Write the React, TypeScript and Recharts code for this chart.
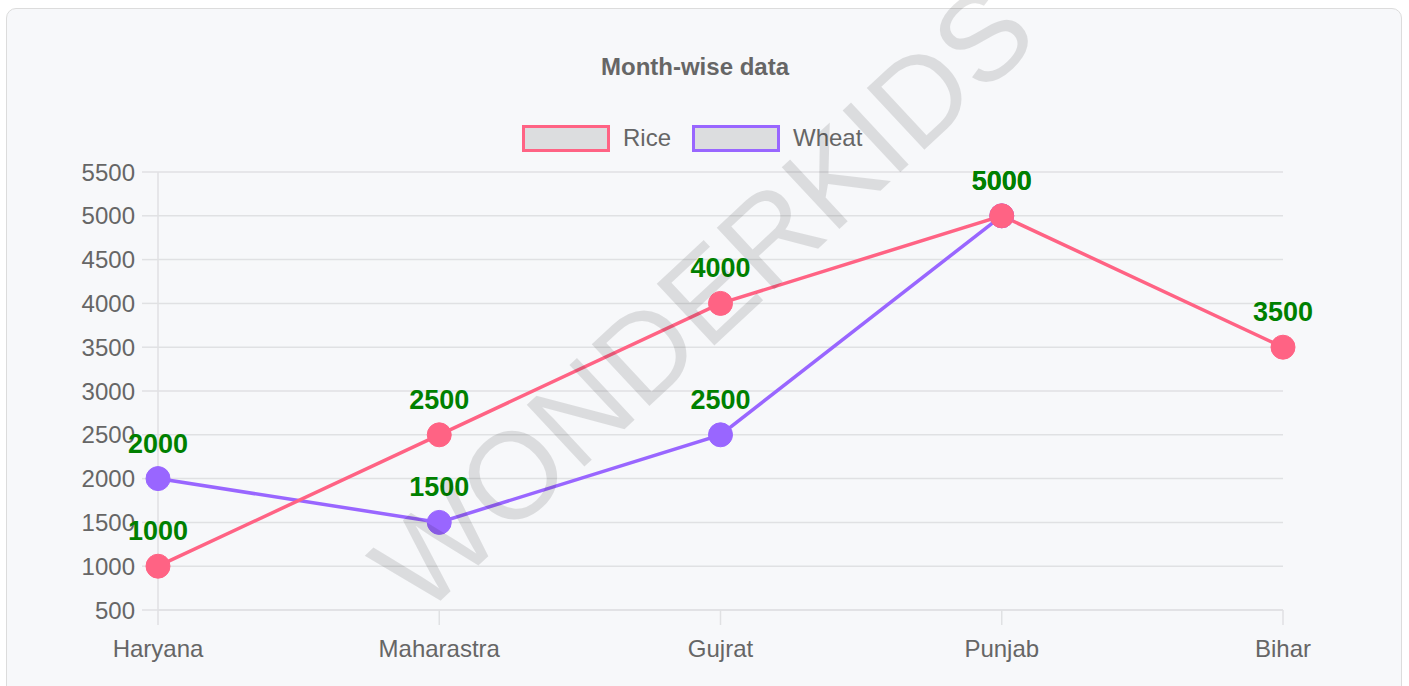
import React from 'react'
import { LineChart, Line, XAxis, YAxis, CartesianGrid, LabelList } from 'recharts'

const states = ['Haryana', 'Maharastra', 'Gujrat', 'Punjab', 'Bihar']
const rice = [1000, 2500, 4000, 5000, 3500]
const wheat: (number | null)[] = [2000, 1500, 2500, 5000, null]
const yTicks = [500, 1000, 1500, 2000, 2500, 3000, 3500, 4000, 4500, 5000, 5500]

const RICE = '#ff6384'
const WHEAT = '#9966ff'
const GRID = '#e0e1e3'
const FONT = '"Liberation Sans", Arial, Helvetica, sans-serif'

const data = states.map((state, i) => ({ state, rice: rice[i], wheat: wheat[i] }))

function LegendItem({ color, label }: { color: string; label: string }) {
  return (
    <div style={{ display: 'flex', alignItems: 'center' }}>
      <div
        style={{
          width: 88,
          height: 27,
          boxSizing: 'border-box',
          border: `3px solid ${color}`,
          background: '#dcdddf',
        }}
      />
      <span style={{ marginLeft: 13, marginRight: 21, fontSize: 24, color: '#666' }}>{label}</span>
    </div>
  )
}

export default function App() {
  return (
    <div
      style={{
        position: 'absolute',
        left: 0,
        top: 0,
        width: 1409,
        height: 686,
        overflow: 'hidden',
        fontFamily: FONT,
        background: '#fff',
      }}
    >
      <div
        style={{
          position: 'absolute',
          left: 6,
          top: 8,
          width: 1396,
          height: 720,
          boxSizing: 'border-box',
          border: '1px solid #dcdcdc',
          borderRadius: 10,
          background: '#f7f8fa',
        }}
      />
      <div
        style={{
          position: 'absolute',
          left: 395,
          width: 600,
          top: 52,
          height: 30,
          lineHeight: '30px',
          textAlign: 'center',
          fontWeight: 'bold',
          fontSize: 24,
          color: '#666',
        }}
      >
        Month-wise data
      </div>
      <div style={{ position: 'absolute', left: 522, top: 124, display: 'flex' }}>
        <LegendItem color={RICE} label="Rice" />
        <LegendItem color={WHEAT} label="Wheat" />
      </div>
      <div style={{ position: 'absolute', left: 0, top: 0 }}>
        <LineChart
          width={1409}
          height={686}
          data={data}
          margin={{ top: 172, right: 126, bottom: 0, left: 0 }}
        >
          <CartesianGrid vertical={false} stroke={GRID} strokeWidth={1.5} />
          <XAxis
            dataKey="state"
            height={76}
            tickSize={15}
            tickMargin={15}
            axisLine={{ stroke: GRID, strokeWidth: 1.5 }}
            tickLine={{ stroke: GRID, strokeWidth: 1.5 }}
            tick={{ fill: '#666', fontSize: 24, fontFamily: FONT }}
            interval={0}
          />
          <YAxis
            width={158}
            domain={[500, 5500]}
            ticks={yTicks}
            interval={0}
            tickSize={16}
            tickMargin={7}
            axisLine={{ stroke: GRID, strokeWidth: 1.5 }}
            tickLine={{ stroke: GRID, strokeWidth: 1.5 }}
            tick={{ fill: '#666', fontSize: 24, fontFamily: FONT }}
          />
          <Line
            dataKey="wheat"
            stroke={WHEAT}
            strokeWidth={3.5}
            dot={{ r: 12, fill: WHEAT, stroke: WHEAT, strokeWidth: 1 }}
            activeDot={false}
            isAnimationActive={false}
          >
            <LabelList
              dataKey="wheat"
              position="top"
              offset={26}
              fill="#008000"
              fontSize={27}
              fontWeight="bold"
              fontFamily={FONT}
            />
          </Line>
          <Line
            dataKey="rice"
            stroke={RICE}
            strokeWidth={3.5}
            dot={{ r: 12, fill: RICE, stroke: RICE, strokeWidth: 1 }}
            activeDot={false}
            isAnimationActive={false}
          >
            <LabelList
              dataKey="rice"
              position="top"
              offset={26}
              fill="#008000"
              fontSize={27}
              fontWeight="bold"
              fontFamily={FONT}
            />
          </Line>
        </LineChart>
      </div>
      {/* watermark, cut off at the top and bottom like the source */}
      <div
        style={{
          position: 'absolute',
          left: 703,
          top: 298,
          transform: 'translate(-50%, -50%) rotate(-43deg)',
          fontSize: 123,
          lineHeight: 1,
          whiteSpace: 'nowrap',
          color: 'rgba(0, 0, 0, 0.11)',
          pointerEvents: 'none',
        }}
      >
        WONDERKIDS
      </div>
    </div>
  )
}
